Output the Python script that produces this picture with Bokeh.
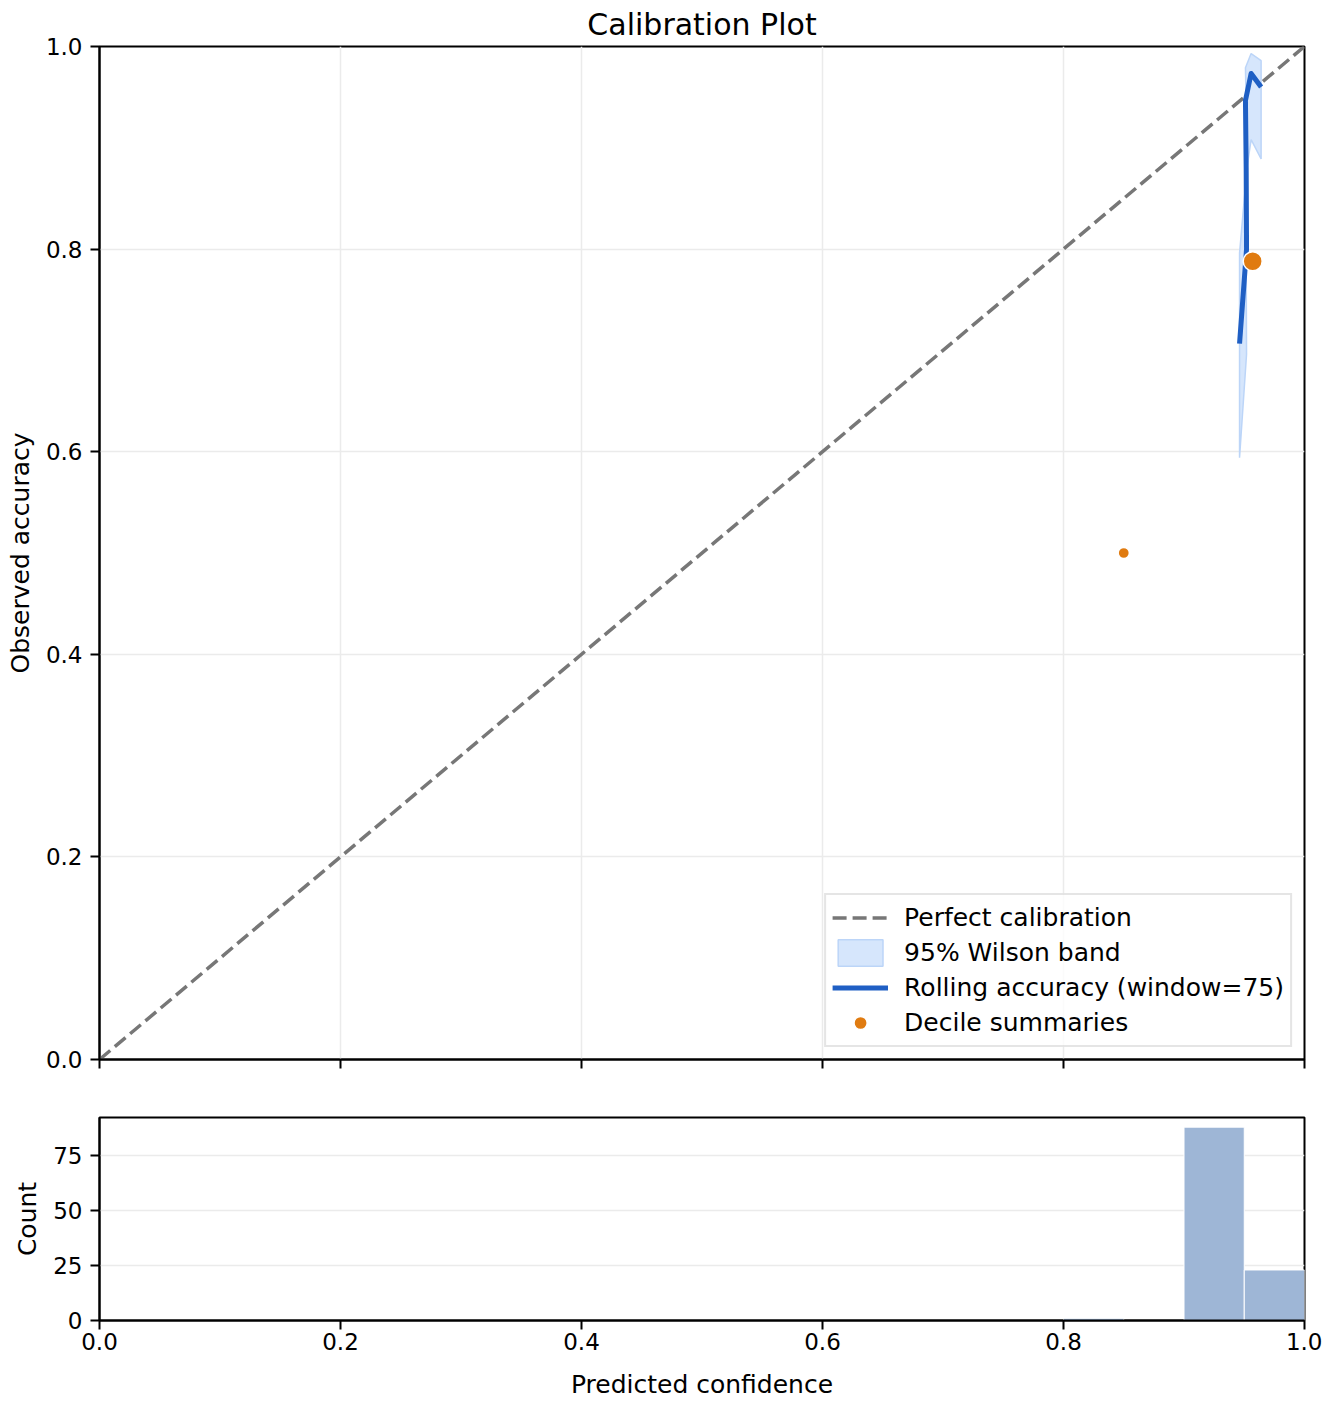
from bokeh.plotting import figure
from bokeh.layouts import column
from bokeh.models import (Range1d, FixedTicker, PrintfTickFormatter, Legend,
                          LegendItem, ColumnDataSource, CustomLabelingPolicy)
from bokeh.embed import file_html
from bokeh.resources import INLINE
import math

# ---------------- data ----------------
diag_x = [0.0, 1.0]
diag_y = [0.0, 1.0]

roll_conf = [0.9461, 0.9519, 0.9516, 0.9510, 0.9557, 0.9640]
roll_acc = [0.7067, 0.8000, 0.8800, 0.9467, 0.9733, 0.9600]
band_lower = [0.594, 0.696, 0.790, 0.870, 0.908, 0.889]
band_upper = [0.796, 0.875, 0.940, 0.979, 0.993, 0.986]

decile_conf = [0.850, 0.957]
decile_acc = [0.500, 0.788]
decile_count = [2, 110]

hist_left = [0.80, 0.85, 0.90, 0.95]
hist_right = [0.85, 0.90, 0.95, 1.00]
hist_count = [1, 0, 88, 23]

x_ticks = [0.0, 0.2, 0.4, 0.6, 0.8, 1.0]
y_ticks = [0.0, 0.2, 0.4, 0.6, 0.8, 1.0]
count_ticks = [0, 25, 50, 75]

FONT = "DejaVu Sans"
TICK_PX = "23px"
LABEL_PX = "25px"


def style_axes(p):
    for ax in (p.xaxis[0], p.yaxis[0]):
        ax.axis_line_width = 2
        ax.axis_line_color = "black"
        ax.major_tick_line_width = 2
        ax.major_tick_out = 9
        ax.major_tick_in = 0
        ax.minor_tick_line_color = None
        ax.major_label_text_font = FONT
        ax.major_label_text_font_size = TICK_PX
        ax.major_label_text_color = "black"
        ax.major_label_standoff = 8
        ax.axis_label_text_font = FONT
        ax.axis_label_text_font_size = LABEL_PX
        ax.axis_label_text_font_style = "normal"
        ax.axis_label_text_color = "black"
        ax.axis_label_standoff = 8
    p.outline_line_color = "black"
    p.outline_line_width = 2
    p.outline_line_alpha = 1.0
    p.xgrid.grid_line_color = "#ebebeb"
    p.ygrid.grid_line_color = "#ebebeb"
    p.xgrid.grid_line_width = 1.5
    p.ygrid.grid_line_width = 1.5
    p.background_fill_color = "white"
    p.border_fill_color = "white"


# ---------------- main calibration panel ----------------
p1 = figure(frame_width=1205, frame_height=1013,
            x_range=Range1d(0, 1), y_range=Range1d(0, 1),
            output_backend="svg", toolbar_location=None,
            min_border_left=99, min_border_right=18,
            min_border_top=46, min_border_bottom=40,
            title="Calibration Plot")
p1.title.text_font = FONT
p1.title.text_font_size = "30px"
p1.title.text_font_style = "normal"
p1.title.text_color = "black"
p1.title.align = "center"
p1.title.standoff = 9
style_axes(p1)
p1.xaxis.ticker = FixedTicker(ticks=x_ticks)
p1.yaxis.ticker = FixedTicker(ticks=y_ticks)
p1.yaxis.formatter = PrintfTickFormatter(format="%.1f")
# shared x axis: tick marks only, labels are shown on the histogram panel
p1.xaxis.major_label_policy = CustomLabelingPolicy(
    code="for (let i = 0; i < indices.size; i++) { indices.unset(i) }\nreturn indices")
p1.yaxis.axis_label = "Observed accuracy"

r_diag = p1.line(diag_x, diag_y, line_color="#777777", line_width=3.5,
                 line_dash="14 6")

band_xs = roll_conf + roll_conf[::-1]
band_ys = band_lower + band_upper[::-1]
r_band = p1.patch(band_xs, band_ys, fill_color="#d6e6fc", fill_alpha=1.0,
                  line_color="#bcd5f8", line_width=1.5)

r_roll = p1.line(roll_conf, roll_acc, line_color="#1f5fc4", line_width=5,
                 line_join="round")

dec_sizes = [10 + 9 * math.sqrt(c / max(decile_count)) for c in decile_count]
dec_src = ColumnDataSource(dict(x=decile_conf, y=decile_acc, s=dec_sizes))
r_dec = p1.scatter("x", "y", size="s", source=dec_src, fill_color="#e07b10",
                   line_color="white", line_width=1.5)

legend = Legend(items=[
    LegendItem(label="Perfect calibration", renderers=[r_diag]),
    LegendItem(label="95% Wilson band", renderers=[r_band]),
    LegendItem(label="Rolling accuracy (window=75)", renderers=[r_roll]),
    LegendItem(label="Decile summaries", renderers=[r_dec]),
], location="bottom_right")
legend.margin = 12
legend.padding = 6
legend.spacing = 2
legend.glyph_width = 56
legend.glyph_height = 33
legend.label_height = 33
legend.label_standoff = 16
legend.label_text_font = FONT
legend.label_text_font_size = LABEL_PX
legend.label_text_color = "black"
legend.border_line_color = "#cccccc"
legend.border_line_width = 2
legend.background_fill_alpha = 0.8
p1.add_layout(legend)

# ---------------- histogram panel ----------------
p2 = figure(frame_width=1205, frame_height=203,
            x_range=p1.x_range, y_range=Range1d(0, 92.4),
            output_backend="svg", toolbar_location=None,
            min_border_left=99, min_border_right=18,
            min_border_top=18, min_border_bottom=66)
style_axes(p2)
p2.xaxis.ticker = FixedTicker(ticks=x_ticks)
p2.xaxis.formatter = PrintfTickFormatter(format="%.1f")
p2.xaxis.major_label_standoff = 3
p2.xaxis.axis_label_standoff = 17
p2.yaxis.ticker = FixedTicker(ticks=count_ticks)
p2.xgrid.grid_line_color = None
p2.xaxis.axis_label = "Predicted confidence"
p2.yaxis.axis_label = "Count"

p2.quad(left=hist_left, right=hist_right, top=hist_count, bottom=0,
        fill_color="#9eb6d6", line_color="white", line_width=1)

layout = column(p1, p2, spacing=0)
open("out.html", "w").write(file_html(layout, INLINE))
